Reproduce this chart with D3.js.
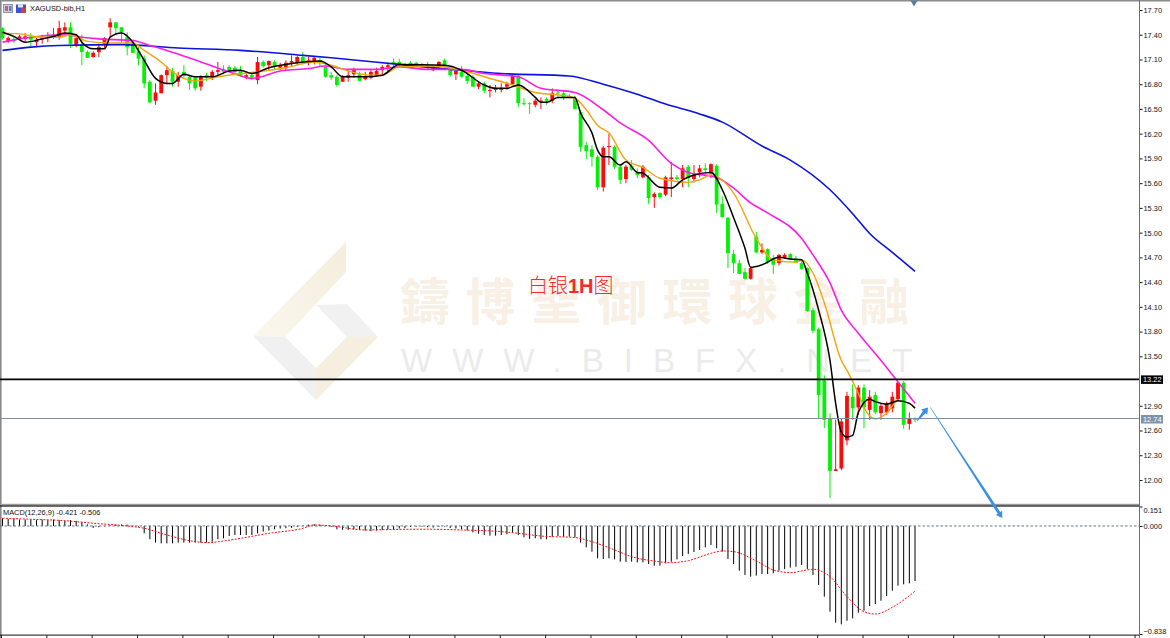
<!DOCTYPE html>
<html><head><meta charset="utf-8">
<script src="https://cdn.jsdelivr.net/npm/d3@7"></script>
<style>html,body{margin:0;padding:0;background:#fff;overflow:hidden}svg{display:block}text{font-family:"Liberation Sans",Arial,sans-serif}</style>
</head><body><svg id="c" width="1170" height="638"></svg>
<script>
const opens=[17.48,17.32,17.35,17.36,17.35,17.37,17.31,17.34,17.36,17.36,
17.37,17.45,17.49,17.28,17.28,17.19,17.13,17.19,17.29,17.49,
17.55,17.49,17.37,17.30,17.20,17.11,16.83,16.60,16.69,16.91,
16.96,16.83,16.95,16.89,16.88,16.77,16.91,16.89,16.95,16.98,
17.01,17.00,16.97,16.89,16.91,16.85,17.07,17.03,17.07,17.00,
17.00,17.06,17.06,17.13,17.06,17.07,17.09,17.01,16.91,16.89,
16.83,16.88,16.92,16.92,16.86,16.88,16.91,16.97,17.01,17.07,
17.07,17.04,17.06,17.06,17.03,17.03,16.97,17.02,17.09,16.97,
16.92,16.95,16.90,16.89,16.77,16.81,16.72,16.73,16.73,16.77,
16.80,16.90,16.57,16.57,16.55,16.58,16.62,16.60,16.70,16.69,
16.66,16.63,16.46,16.06,16.01,15.92,15.55,16.04,16.04,15.80,
15.65,15.81,15.73,15.67,15.67,15.43,15.48,15.46,15.65,15.67,
15.65,15.80,15.65,15.73,15.78,15.72,15.81,15.35,15.18,14.74,
14.63,14.52,14.44,14.95,14.76,14.80,14.69,14.63,14.70,14.74,
14.68,14.63,14.57,14.06,13.83,13.21,12.74,12.11,12.14,12.48,
13.01,12.88,13.12,12.85,13.03,12.81,12.82,12.87,12.98,13.18,
12.68,12.75];
const highs=[17.49,17.38,17.37,17.40,17.42,17.42,17.36,17.40,17.43,17.48,
17.57,17.55,17.55,17.41,17.40,17.21,17.20,17.29,17.37,17.60,
17.55,17.49,17.43,17.34,17.25,17.15,16.85,16.81,16.92,17.02,
17.00,16.95,17.03,16.91,16.90,16.91,16.94,16.97,17.07,17.03,
17.03,17.02,17.02,16.95,16.95,17.13,17.09,17.09,17.09,17.06,
17.09,17.15,17.14,17.19,17.13,17.13,17.12,17.07,16.95,16.91,
16.91,16.97,17.00,16.95,16.95,16.97,17.00,17.03,17.06,17.11,
17.11,17.06,17.08,17.07,17.06,17.07,17.02,17.08,17.11,17.00,
16.98,17.02,16.95,16.91,16.83,16.83,16.79,16.79,16.81,16.83,
16.91,16.92,16.63,16.58,16.62,16.64,16.64,16.75,16.74,16.73,
16.68,16.66,16.49,16.10,16.06,15.94,16.05,16.20,16.06,15.83,
15.82,15.88,15.78,15.82,15.70,15.49,15.49,15.69,15.86,15.70,
15.82,15.82,15.82,15.82,15.84,15.84,15.83,15.44,15.19,14.79,
14.67,14.57,14.58,15.01,14.87,14.81,14.73,14.74,14.75,14.75,
14.72,14.66,14.58,14.09,13.85,13.27,12.81,12.73,12.75,13.07,
13.16,13.15,13.16,13.09,13.07,12.92,12.95,13.07,13.19,13.20,
12.82,12.76];
const lows=[17.34,17.30,17.30,17.34,17.32,17.26,17.25,17.29,17.31,17.35,
17.34,17.40,17.24,17.25,17.03,17.12,17.12,17.13,17.24,17.37,
17.40,17.30,17.15,17.18,17.03,16.75,16.57,16.55,16.69,16.80,
16.77,16.77,16.88,16.73,16.72,16.72,16.84,16.85,16.90,16.92,
16.95,16.92,16.89,16.86,16.85,16.80,17.00,16.97,16.97,16.97,
16.96,17.02,17.03,17.04,17.03,17.04,17.02,16.88,16.85,16.77,
16.83,16.83,16.89,16.84,16.85,16.86,16.90,16.92,16.96,17.01,
17.01,17.00,17.01,17.01,17.00,16.98,16.96,17.00,16.97,16.89,
16.85,16.88,16.80,16.77,16.74,16.69,16.64,16.70,16.70,16.73,
16.79,16.52,16.54,16.44,16.52,16.50,16.55,16.57,16.64,16.61,
16.63,16.49,15.98,15.89,15.80,15.52,15.50,15.82,15.77,15.59,
15.60,15.75,15.66,15.66,15.35,15.30,15.41,15.44,15.43,15.63,
15.55,15.55,15.61,15.67,15.73,15.66,15.24,15.18,14.57,14.51,
14.50,14.43,14.43,14.75,14.74,14.62,14.50,14.60,14.69,14.67,
14.63,14.55,14.04,13.78,12.74,12.63,11.78,12.11,12.12,12.42,
12.73,12.79,12.63,12.73,12.80,12.73,12.79,12.82,12.97,12.62,
12.61,12.70];
const closes=[17.36,17.36,17.32,17.38,17.38,17.34,17.34,17.36,17.37,17.40,
17.48,17.49,17.29,17.36,17.19,17.12,17.18,17.25,17.36,17.55,
17.48,17.43,17.25,17.18,17.11,16.81,16.58,16.70,16.91,16.97,
16.83,16.91,16.90,16.81,16.75,16.89,16.88,16.95,16.97,16.95,
16.96,16.95,16.91,16.91,16.88,17.07,17.02,17.08,17.02,17.03,
17.06,17.08,17.13,17.07,17.09,17.12,17.07,16.89,16.88,16.79,
16.89,16.91,16.97,16.84,16.90,16.95,16.96,17.01,17.03,17.04,
17.03,17.02,17.02,17.03,17.01,17.00,17.01,17.07,17.01,16.91,
16.96,16.89,16.84,16.77,16.81,16.72,16.73,16.75,16.75,16.80,
16.90,16.57,16.56,16.56,16.60,16.60,16.60,16.69,16.69,16.64,
16.64,16.50,16.04,15.99,15.92,15.55,16.03,16.05,15.80,15.64,
15.80,15.76,15.70,15.80,15.42,15.47,15.43,15.67,15.67,15.65,
15.78,15.66,15.70,15.78,15.76,15.83,15.34,15.19,14.75,14.63,
14.50,14.44,14.57,14.76,14.79,14.64,14.61,14.73,14.73,14.68,
14.64,14.56,14.05,13.81,13.03,12.73,12.11,12.13,12.71,13.02,
12.87,13.12,12.88,13.01,12.82,12.90,12.93,13.01,13.18,12.67,
12.75,12.73];

const blackBars=[0,2,4,7,9,11,13,14,16,18,19,21,23,25,27,29,30,32,34,37,40,42,44,47,50,52,56,58,60,64,67,70,78,81,85,87,89,91,94,95,96,98,101,102,104,105,106,107,109,110,112,113,116,118,120,122,125,127,129,131,132,134,137,139,141,142,144,146,147,148,149,150,151,153,154,156,158,160,161];
const blackMA=[17.43,17.38,17.31,17.35,17.38,17.42,17.40,17.31,17.23,17.23,17.37,17.42,17.31,17.09,16.87,16.81,16.81,16.92,16.89,16.89,16.96,16.97,16.93,17.00,17.04,17.06,17.08,17.01,16.89,16.89,16.91,17.04,17.03,16.97,16.79,16.75,16.75,16.79,16.64,16.58,16.58,16.64,16.64,16.45,16.21,16.00,15.92,15.92,15.82,15.86,15.73,15.72,15.55,15.54,15.64,15.70,15.73,15.52,15.18,14.81,14.58,14.61,14.70,14.68,14.67,14.51,14.06,13.45,12.93,12.58,12.52,12.54,12.82,12.98,12.95,12.92,12.96,12.93,12.87];
const orangeBars=[0,3,7,10,12,15,19,23,25,28,30,34,38,41,45,50,55,58,61,65,67,70,76,81,85,90,94,98,101,103,105,107,110,113,116,121,123,125,129,133,136,140,141,143,145,148,149,151,152,154,156,158,160,161];
const orangeMA=[17.42,17.41,17.37,17.37,17.40,17.32,17.30,17.30,17.21,17.07,16.95,16.84,16.89,16.92,16.95,17.00,17.07,17.03,16.96,16.91,16.91,17.01,17.02,16.97,16.89,16.79,16.70,16.67,16.63,16.49,16.30,16.21,15.88,15.79,15.66,15.61,15.64,15.70,15.48,14.93,14.67,14.64,14.67,14.51,14.15,13.45,13.33,13.05,12.88,12.74,12.81,12.96,12.93,12.88];
const magentaBars=[0,5,11,14,17,23,26,29,35,40,44,49,54,57,61,66,70,75,81,85,91,95,101,106,109,114,118,121,126,129,132,135,141,143,146,148,151,155,158,161];
const magentaMA=[17.31,17.37,17.40,17.37,17.35,17.33,17.27,17.21,17.07,16.95,16.87,16.96,16.99,17.02,16.98,16.98,17.01,16.98,16.98,16.93,16.89,16.75,16.70,16.49,16.33,16.12,15.84,15.73,15.67,15.54,15.36,15.24,14.93,14.73,14.39,14.06,13.78,13.45,13.19,12.93];
const blueBars=[0,5,10,21,31,42,53,58,70,79,88,100,106,111,117,123,127,134,139,146,150,153,157,161];
const blueMA=[17.21,17.25,17.27,17.28,17.24,17.21,17.15,17.12,17.04,16.98,16.93,16.90,16.80,16.70,16.56,16.44,16.34,16.05,15.88,15.52,15.23,14.99,14.76,14.53];

const macdHist=[0.060,0.055,0.055,0.050,0.050,0.050,0.045,0.050,0.045,0.050,
0.045,0.040,0.045,0.040,0.030,0.012,-0.015,-0.010,-0.003,0.005,
0.010,0.012,0.010,0.003,-0.005,-0.057,-0.103,-0.129,-0.135,-0.135,
-0.135,-0.129,-0.129,-0.129,-0.129,-0.129,-0.129,-0.122,-0.103,-0.096,
-0.078,-0.070,-0.070,-0.070,-0.070,-0.057,-0.044,-0.036,-0.026,-0.020,
-0.018,-0.015,-0.008,0.005,0.010,0.013,0.010,0.005,-0.005,-0.026,
-0.030,-0.030,-0.026,-0.031,-0.036,-0.040,-0.036,-0.031,-0.028,-0.026,
-0.020,-0.015,-0.008,-0.005,-0.005,-0.010,-0.012,-0.006,-0.004,-0.015,
-0.020,-0.025,-0.035,-0.050,-0.060,-0.070,-0.075,-0.075,-0.070,-0.065,
-0.050,-0.070,-0.088,-0.100,-0.096,-0.103,-0.103,-0.083,-0.078,-0.083,
-0.083,-0.088,-0.129,-0.166,-0.199,-0.251,-0.256,-0.251,-0.259,-0.277,
-0.279,-0.277,-0.282,-0.282,-0.295,-0.308,-0.308,-0.290,-0.277,-0.259,
-0.233,-0.217,-0.202,-0.186,-0.166,-0.147,-0.173,-0.199,-0.256,-0.295,
-0.347,-0.380,-0.393,-0.385,-0.373,-0.373,-0.367,-0.347,-0.334,-0.323,
-0.316,-0.303,-0.334,-0.380,-0.458,-0.548,-0.665,-0.750,-0.763,-0.735,
-0.717,-0.673,-0.657,-0.621,-0.605,-0.580,-0.543,-0.502,-0.463,-0.453,
-0.445,-0.427];
const signalBars=[0,5,11,16,22,25,29,33,36,41,47,53,55,58,64,70,75,80,88,91,95,101,104,108,111,115,118,121,125,127,129,133,136,139,142,143,146,149,152,154,157,161];
const signalVals=[0.060,0.052,0.041,0.021,0.000,-0.018,-0.070,-0.114,-0.129,-0.103,-0.057,-0.018,0.008,0.000,-0.031,-0.026,-0.025,-0.030,-0.044,-0.057,-0.078,-0.090,-0.122,-0.186,-0.238,-0.272,-0.285,-0.269,-0.212,-0.194,-0.199,-0.272,-0.341,-0.362,-0.341,-0.336,-0.393,-0.548,-0.665,-0.683,-0.631,-0.506];

const priceTicks=[17.70,17.40,17.10,16.80,16.50,16.20,15.90,15.60,15.30,15.00,14.70,14.40,14.10,13.80,13.50,12.90,12.60,12.30,12.00];
const macdTicks=[0.151,0.000,-0.838];
const resistance=13.22, bid=12.74;
// forecast arrows: [bar, price] pairs
const arrowUp=[[161.4,12.72],[163.3,12.88]];
const arrowDown=[[163.7,12.88],[176.4,11.54]];
const chartTitle="XAGUSD-bib,H1", macdTitle="MACD(12,26,9) -0.421 -0.506", note=["白银","1H","图"];
const wmChars=["鑄","博","聖","御","環","球","金","融"], wmUrl="WWW.BIBFX.NET";

const W=1170,H=638,axisX=1139.5;
const svg=d3.select("#c");
const x=d3.scaleLinear().domain([0,161]).range([2.5,915]);
const y=d3.scaleLinear().domain([12,17.7]).range([480,10]);
const ym=d3.scaleLinear().domain([-0.838,0.151]).range([634,506.5]);
const GREEN="#04f004",RED="#ff0a0a";

// watermark
const wm=svg.append("g");
const defs=svg.append("defs");
const g1=defs.append("linearGradient").attr("id","tan1").attr("x1",1).attr("y1",0).attr("x2",0).attr("y2",1);
g1.append("stop").attr("offset",0).attr("stop-color","#f4eddc");g1.append("stop").attr("offset",1).attr("stop-color","#fbf7ee");
[[["#tan"],[[346,242],[346,272],[285,337],[253,336]],"url(#tan1)"],
 [0,[[316,305],[347,304],[378,337],[347,337]],"#f1f1f1"],
 [0,[[347,337],[378,337],[316,400],[316,368]],"#f6efe0"],
 [0,[[253,336],[285,337],[316,368],[316,400]],"#f0f0f0"]].forEach(d=>{
  wm.append("polygon").attr("points",d[1].join(" ")).attr("fill",d[2]);
});
wm.selectAll("text.cn").data(wmChars).join("text").attr("class","cn")
  .attr("x",(d,i)=>425+65.6*i).attr("y",320).attr("text-anchor","middle")
  .style("font-family","'Noto Sans CJK TC'").style("font-weight",700).style("font-size","50px").attr("fill","#f8efe5").text(d=>d);
wm.append("text").attr("x",401).attr("y",372).style("font-size","33px").style("letter-spacing","20px").attr("fill","#ebebeb").text(wmUrl);

// frame
svg.append("rect").attr("x",0).attr("y",0).attr("width",W).attr("height",1.5).attr("fill","#8a8a8a");
svg.append("rect").attr("x",0).attr("y",0).attr("width",1.6).attr("height",H).attr("fill","#8a8a8a");

// title + icons
const ic=svg.append("g");
ic.append("rect").attr("x",3.5).attr("y",4.5).attr("width",9).attr("height",8).attr("fill","#c9d3e6").attr("stroke","#8a93a8");
ic.append("rect").attr("x",5).attr("y",6).attr("width",3).attr("height",5).attr("fill","#d0605c");
ic.append("rect").attr("x",9).attr("y",6).attr("width",2.5).attr("height",5).attr("fill","#5c7ad0");
ic.append("rect").attr("x",16).attr("y",4.5).attr("width",10).attr("height",8.5).attr("fill","#3c55c8");
ic.append("rect").attr("x",21).attr("y",8).attr("width",5).attr("height",5).attr("fill","#d04040");
ic.append("rect").attr("x",18).attr("y",4.5).attr("width",5).attr("height",3).attr("fill","#e8e8f0");
svg.append("text").attr("x",30).attr("y",11).style("font-size","7.4px").attr("fill","#111").text(chartTitle);

// candles
const n=opens.length, bars=d3.range(n);
const cg=svg.append("g");
cg.selectAll("line").data(bars).join("line")
  .attr("x1",i=>x(i)).attr("x2",i=>x(i)).attr("y1",i=>y(highs[i])).attr("y2",i=>y(lows[i]))
  .attr("stroke",i=>closes[i]>=opens[i]?RED:GREEN).attr("stroke-width",1);
cg.selectAll("rect").data(bars).join("rect")
  .attr("x",i=>x(i)-1.9).attr("width",3.8)
  .attr("y",i=>y(Math.max(opens[i],closes[i])))
  .attr("height",i=>Math.max(1,Math.abs(y(opens[i])-y(closes[i]))))
  .attr("fill",i=>closes[i]>=opens[i]?RED:GREEN);

// MAs
const ln=d3.line().x(d=>x(d[0])).y(d=>y(d[1])).curve(d3.curveMonotoneX);
[[blueBars,blueMA,"#0a12dc",1.6],[magentaBars,magentaMA,"#fa1ee6",1.6],[orangeBars,orangeMA,"#f0a50f",1.4],[blackBars,blackMA,"#000",1.5]].forEach(s=>{
  svg.append("path").attr("d",ln(d3.zip(s[0],s[1]))).attr("fill","none").attr("stroke",s[2]).attr("stroke-width",s[3]).attr("stroke-linejoin","round");
});

// horizontal levels
svg.append("line").attr("x1",0).attr("x2",axisX).attr("y1",y(resistance)).attr("y2",y(resistance)).attr("stroke","#000").attr("stroke-width",1.6);
svg.append("line").attr("x1",0).attr("x2",axisX).attr("y1",y(bid)).attr("y2",y(bid)).attr("stroke","#7f8f9c").attr("stroke-width",1).attr("shape-rendering","crispEdges");

// top marker
svg.append("path").attr("d",d3.symbol(d3.symbolTriangle,22)()).attr("transform",`translate(${x(161)-1},2.5) rotate(180)`).attr("fill","#5b7f95");

// panel separators
svg.append("rect").attr("x",0).attr("y",503.8).attr("width",axisX).attr("height",1.6).attr("fill","#9a9a9a");
svg.append("rect").attr("x",0).attr("y",505.4).attr("width",axisX).attr("height",1.2).attr("fill","#111");
svg.append("rect").attr("x",0).attr("y",634.6).attr("width",axisX).attr("height",1).attr("fill","#111");

// right axes
const yAxis=svg.append("g").attr("transform",`translate(${axisX},0)`).call(d3.axisRight(y).tickValues(priceTicks).tickFormat(d3.format(".2f")).tickSize(3).tickPadding(1));
yAxis.select(".domain").remove();
const mAxis=svg.append("g").attr("transform",`translate(${axisX},0)`).call(d3.axisRight(ym).tickValues(macdTicks).tickFormat(d3.format(".3f")).tickSize(3).tickPadding(1));
mAxis.select(".domain").remove();
mAxis.selectAll("text").attr("dy",d=>d===0.151?"0.75em":d===-0.838?"-0.1em":"0.32em");
[yAxis,mAxis].forEach(a=>{a.selectAll("text").style("font-size","7.4px").style("font-family","'Liberation Sans'").attr("fill","#111");a.selectAll("line").attr("stroke","#111");});
svg.append("line").attr("x1",axisX).attr("x2",axisX).attr("y1",0).attr("y2",H).attr("stroke","#6e6e6e").attr("stroke-width",1);
[[resistance,"#000"],[bid,"#7d93ab"]].forEach(d=>{
  svg.append("rect").attr("x",axisX+1.5).attr("y",y(d[0])-4).attr("width",22).attr("height",8.5).attr("fill",d[1]);
  svg.append("text").attr("x",axisX+3.5).attr("y",y(d[0])+2.7).style("font-size","7.4px").attr("fill","#fff").text(d3.format(".2f")(d[0]));
});

// bottom time ticks
const tickBars=d3.range(0,n+40,8).filter(d=>x(d)<axisX);
svg.selectAll("line.tt").data(tickBars).join("line").attr("class","tt")
  .attr("x1",d=>x(d)-1).attr("x2",d=>x(d)-1).attr("y1",635).attr("y2",638).attr("stroke","#222");

// MACD
svg.append("text").attr("x",3).attr("y",515).style("font-size","7.4px").attr("fill","#111").text(macdTitle);
svg.append("g").selectAll("line").data(bars).join("line")
  .attr("x1",i=>x(i)).attr("x2",i=>x(i)).attr("y1",ym(0)).attr("y2",i=>ym(macdHist[i]))
  .attr("stroke","#000").attr("stroke-width",1);
svg.append("line").attr("x1",0).attr("x2",axisX).attr("y1",ym(0)).attr("y2",ym(0)).attr("stroke","#5f7a8e").attr("stroke-width",1).attr("stroke-dasharray","2.5,2");
svg.append("path").attr("d",d3.line().x(d=>x(d[0])).y(d=>ym(d[1])).curve(d3.curveMonotoneX)(d3.zip(signalBars,signalVals)))
  .attr("fill","none").attr("stroke","#ff1010").attr("stroke-width",1).attr("stroke-dasharray","2,1.4");

// note text
const nt=svg.append("text").attr("x",528).attr("y",293).attr("fill","#f52a2a").style("font-size","20px");
nt.append("tspan").style("font-family","'Noto Sans CJK SC'").style("font-weight",300).text(note[0]);
nt.append("tspan").style("font-family","'Liberation Sans'").style("font-weight",700).text(note[1]);
nt.append("tspan").style("font-family","'Noto Sans CJK SC'").style("font-weight",300).text(note[2]);

// forecast arrows (tapered toward the tail)
function arrow(p,w0,w1,hl,hw){
  const a=[x(p[0][0]),y(p[0][1])],b=[x(p[1][0]),y(p[1][1])];
  const dx=b[0]-a[0],dy=b[1]-a[1],L=Math.hypot(dx,dy),u=[dx/L,dy/L],v=[-u[1],u[0]];
  const c=[b[0]-u[0]*hl,b[1]-u[1]*hl];
  const pt=(o,s)=>[o[0]+v[0]*s,o[1]+v[1]*s];
  svg.append("polygon").attr("points",[pt(a,w0/2),pt(c,w1/2),pt(c,hw/2),b,pt(c,-hw/2),pt(c,-w1/2),pt(a,-w0/2)].join(" ")).attr("fill","#3a90e2");
}
arrow(arrowUp,1,3.4,6,8);
arrow(arrowDown,0.6,3,6,7.5);
</script></body></html>
